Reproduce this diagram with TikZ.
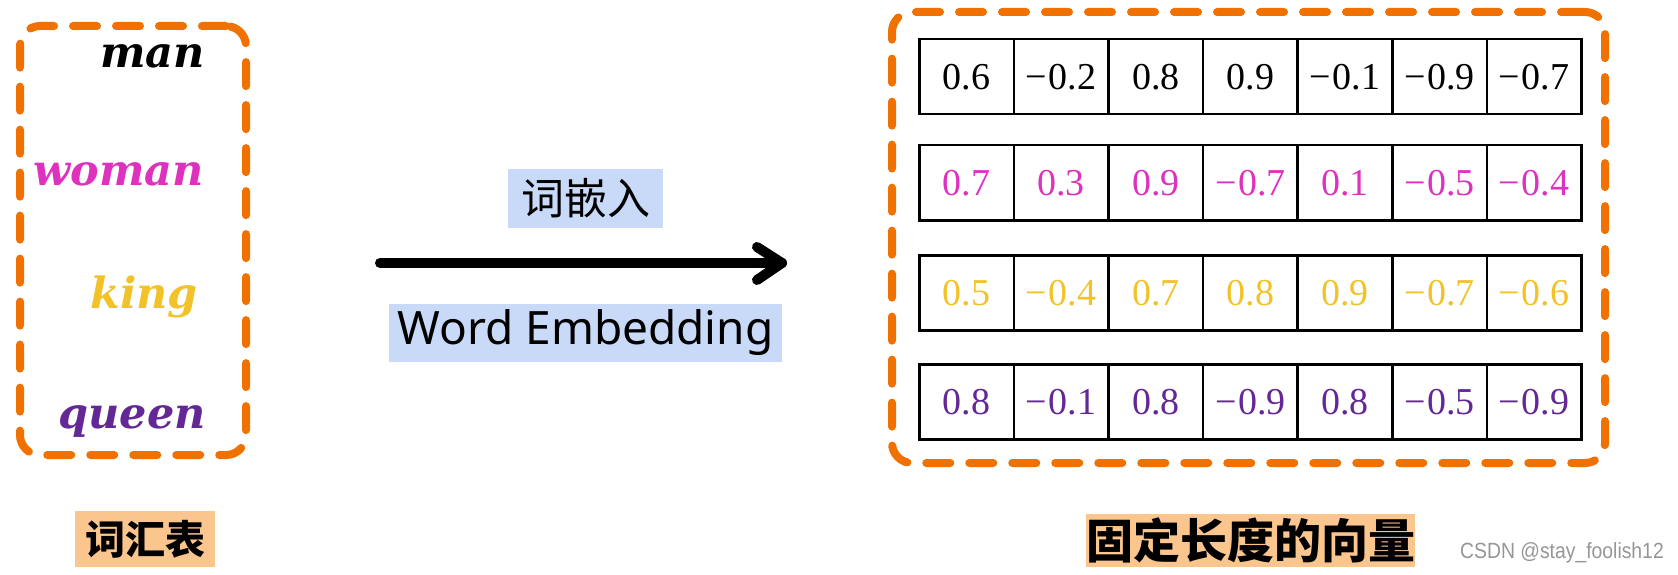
\documentclass[tikz,border=0pt]{standalone}
\usepackage{fontspec}
\setmainfont{Liberation Serif}
\newfontfamily\cjk{Noto Sans CJK SC}
\newfontfamily\wordfont{DejaVu Serif}
\newfontfamily\labfont{Noto Sans}
\newfontfamily\wmfont[FakeStretch=0.88]{Liberation Sans}
\definecolor{dorange}{RGB}{240,112,0}
\definecolor{cmag}{RGB}{222,50,190}
\definecolor{cgold}{RGB}{242,195,40}
\definecolor{cpurp}{RGB}{100,40,150}
\definecolor{lblue}{RGB}{201,218,248}
\definecolor{peach}{RGB}{251,197,142}
\definecolor{wmgray}{RGB}{150,150,150}
\newcommand\mn{−\kern1.5pt}
\begin{document}
\begin{tikzpicture}[x=1pt,y=-1pt,
  dashbox/.style={draw=dorange, line width=8pt, line cap=round, dash pattern=on 24pt off 19pt, rounded corners=20pt, inner sep=0pt},
  cell/.style={draw=black, line width=2.5pt, minimum width=94.6pt, minimum height=75pt, inner sep=0pt, anchor=north west},
  num/.style={font=\fontsize{38}{38}\selectfont, inner sep=0pt},
  word/.style={font=\wordfont\bfseries\itshape\fontsize{43}{43}\selectfont, anchor=base east, inner sep=0pt},
  bluelab/.style={fill=lblue, inner sep=0pt},
  peachlab/.style={fill=peach, inner sep=0pt, font=\cjk\bfseries\fontsize{40}{40}\selectfont},
  thickarrow/.style={line width=10pt, line cap=round, line join=round}
]
\useasboundingbox (0,0) rectangle (1678,575);

% left vocabulary box
\node[dashbox, minimum width=226pt, minimum height=429pt] (vocab) at (133,240.5) {};
\node[word, text=black] (man) at (205,68) {man};
\node[word, text=cmag] (woman) at (204,185) {woman};
\node[word, text=cgold] (king) at (198,308) {king};
\node[word, text=cpurp] (queen) at (206,428) {queen};

% arrow
\coordinate (arrS) at (380,263);
\coordinate (arrE) at (782,263);
\coordinate (barbU) at (757,247);
\coordinate (barbD) at (757,280);
\draw[thickarrow] (arrS) -- (arrE);
\draw[thickarrow] (barbU) -- (arrE) -- (barbD);

\node[bluelab, minimum width=155pt, minimum height=59pt, font=\cjk\fontsize{43}{43}\selectfont] (zh) at (585.5,198.5) {词嵌入};
\node[bluelab, minimum width=393pt, minimum height=58pt, font=\labfont\fontsize{46}{46}\selectfont] (en) at (585.5,333) {Word Embedding};

% right vector box
\node[dashbox, minimum width=713pt, minimum height=451pt] (vecbox) at (1248.5,237.5) {};

\foreach \r/\top/\col/\vals in {
  1/38/black/{0.6,\mn0.2,0.8,0.9,\mn0.1,\mn0.9,\mn0.7},
  2/144/cmag/{0.7,0.3,0.9,\mn0.7,0.1,\mn0.5,\mn0.4},
  3/254/cgold/{0.5,\mn0.4,0.7,0.8,0.9,\mn0.7,\mn0.6},
  4/363/cpurp/{0.8,\mn0.1,0.8,\mn0.9,0.8,\mn0.5,\mn0.9}} {
  \foreach \v [count=\c] in \vals {
    \node[cell] (c-\r-\c) at ({918+(\c-1)*94.6},\top) {};
    \node[num, text=\col] (n-\r-\c) at (c-\r-\c.center) {\v};
  }
}

% bottom labels
\node[peachlab, minimum width=140pt, minimum height=56pt] (voclab) at (145,539) {词汇表};
\node[peachlab, minimum width=329pt, minimum height=53pt, font=\cjk\bfseries\fontsize{47}{47}\selectfont] (veclab) at (1250.5,540.5) {固定长度的向量};

\node[font=\wmfont\fontsize{22}{22}\selectfont, text=wmgray, anchor=east, inner sep=0pt] (wm) at (1664,553) {CSDN @stay\_foolish12};
\end{tikzpicture}
\end{document}
